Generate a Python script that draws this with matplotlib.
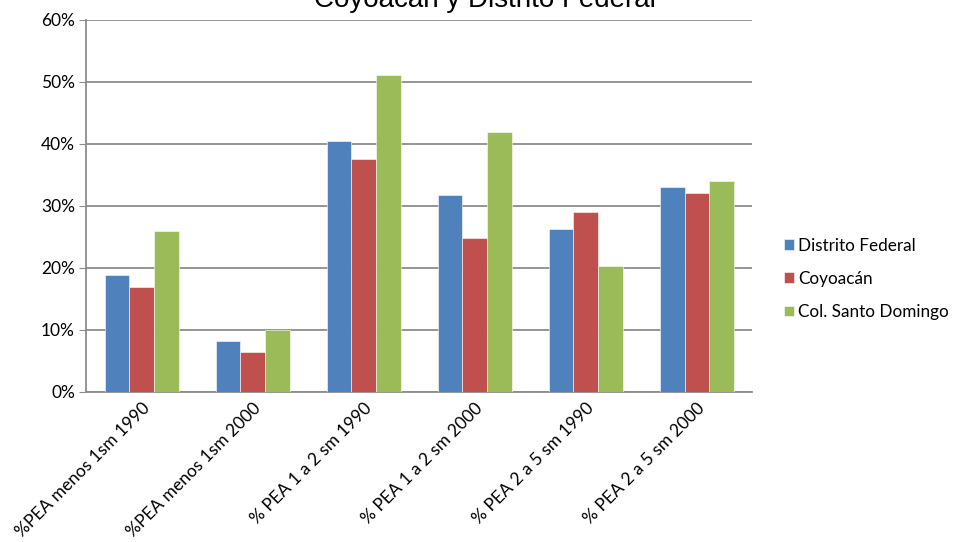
import numpy as np
import matplotlib.pyplot as plt
from matplotlib.ticker import FuncFormatter

categories = ["%PEA menos 1sm 1990", "%PEA menos 1sm 2000", "% PEA 1 a 2 sm 1990",
              "% PEA 1 a 2 sm 2000", "% PEA 2 a 5 sm 1990", "% PEA 2 a 5 sm 2000"]
distrito_federal = [18.9, 8.3, 40.5, 31.8, 26.3, 33.1]
coyoacan = [16.9, 6.5, 37.6, 24.8, 29.0, 32.1]
santo_domingo = [26.0, 10.0, 51.1, 42.0, 20.3, 34.0]
series_names = ["Distrito Federal", "Coyoacán", "Col. Santo Domingo"]
colors = ["#4F81BD", "#C0504D", "#9BBB59"]

plt.rcParams['font.family'] = ['Lato', 'DejaVu Sans']

fig = plt.figure(figsize=(9.56, 5.42), dpi=100)
ax = fig.add_axes([0.09, 0.2768, 0.697, 0.6863])

x = np.arange(len(categories))
w = 1 / 4.5
for i, (vals, name, c) in enumerate(zip([distrito_federal, coyoacan, santo_domingo], series_names, colors)):
    ax.bar(x + (i - 1) * w, vals, width=w, color=c, label=name, zorder=3,
           edgecolor='white', linewidth=0.4)

ax.set_xlim(-0.5, len(categories) - 0.5)
ax.set_ylim(0, 60)
ax.set_yticks(np.arange(0, 61, 10))
ax.yaxis.set_major_formatter(FuncFormatter(lambda v, p: f"{v:.0f}%"))
ax.grid(axis='y', color='#8c8c8c', linewidth=1.3, zorder=0)
for s in ['top', 'right']:
    ax.spines[s].set_visible(False)
for s in ['left', 'bottom']:
    ax.spines[s].set_color('#8c8c8c')
    ax.spines[s].set_linewidth(1.3)
ax.tick_params(axis='y', length=5, color='#8c8c8c', labelsize=12.5, pad=3)
ax.tick_params(axis='x', length=0, labelsize=12.5, pad=6)
ax.set_xticks(x)
ax.set_xticklabels(categories, rotation=45, ha='right', va='top', rotation_mode='anchor')

ax.legend(loc='center left', bbox_to_anchor=(1.024, 0.304), frameon=False, fontsize=12.3,
          handlelength=0.6, handleheight=0.6, handletextpad=0.25, labelspacing=1.0)

fig.text(0.507, 0.988, "Coyoacán y Distrito Federal", ha='center', va='baseline',
         fontsize=20, family=['Liberation Sans', 'DejaVu Sans'])

fig.savefig("out.png", dpi=100)
